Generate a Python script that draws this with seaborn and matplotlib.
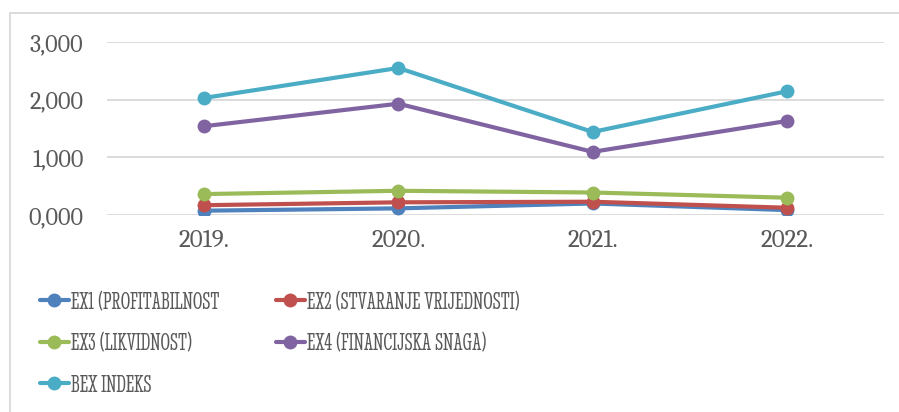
import matplotlib
matplotlib.use("Agg")
import matplotlib.pyplot as plt
import seaborn as sns
import pandas as pd
from matplotlib.lines import Line2D
from matplotlib.patches import Rectangle
from matplotlib.ticker import FuncFormatter

years = ["2019.", "2020.", "2021.", "2022."]
series_names = ["EX1 (PROFITABILNOST", "EX2 (STVARANJE VRIJEDNOSTI)",
                "EX3 (LIKVIDNOST)", "EX4 (FINANCIJSKA SNAGA)", "BEX INDEKS"]
ex1 = [0.075, 0.115, 0.200, 0.085]
ex2 = [0.170, 0.220, 0.230, 0.126]
ex3 = [0.363, 0.420, 0.390, 0.300]
ex4 = [1.540, 1.930, 1.095, 1.630]
bex = [2.030, 2.550, 1.440, 2.145]
colors = ["#4F81BD", "#C0504D", "#9BBB59", "#8064A2", "#4BACC6"]

rows = []
for name, vals in zip(series_names, [ex1, ex2, ex3, ex4, bex]):
    for i, (y, v) in enumerate(zip(years, vals)):
        rows.append({"x": i, "year": y, "series": name, "value": v})
df = pd.DataFrame(rows)

sns.set_theme(style="white")
plt.rcParams["font.family"] = ["Caladea", "PT Serif", "DejaVu Serif"]

fig = plt.figure(figsize=(8.99, 4.12), dpi=100)
ax = fig.add_axes([107/899, 1-215/412, (884-107)/899, (215-42)/412])

sns.lineplot(data=df, x="x", y="value", hue="series", hue_order=series_names,
             palette=colors, marker="o", markersize=10, markeredgewidth=0,
             linewidth=3, ax=ax, legend=False)

ax.set_xlim(-0.5, 3.5)
ax.set_ylim(0, 3)
ax.set_xticks(range(4))
ax.set_xticklabels(years)
ax.set_yticks([0, 1, 2, 3])
ax.yaxis.set_major_formatter(FuncFormatter(lambda v, p: f"{v:.3f}".replace(".", ",")))
ax.set_xlabel("")
ax.set_ylabel("")
ax.grid(axis="y", color="#D9D9D9", linewidth=1.3)
ax.set_axisbelow(True)
for s in ax.spines.values():
    s.set_visible(False)
ax.tick_params(axis="both", length=0, labelsize=17.5, colors="#595959")
ax.tick_params(axis="x", labelsize=18)
ax.tick_params(axis="y", pad=17)
ax.tick_params(axis="x", pad=10)

# row-major legend order for 2 columns
order = [0, 2, 4, 1, 3]
handles = [Line2D([0], [0], color=colors[i], lw=3, marker="o", markersize=10,
                  markeredgewidth=0) for i in order]
labels = [series_names[i] for i in order]
fig.legend(handles, labels, ncol=2, loc="upper left",
           bbox_to_anchor=(18/899, 1-270/412), frameon=False,
           prop={"size": 17.5, "family": ["Stint Ultra Condensed", "PT Serif"]},
           labelcolor="#595959", handlelength=1.2, handletextpad=0.1,
           columnspacing=2.3, labelspacing=0.8)

fig.patches.append(Rectangle((10/899, -0.1), 1.2, 1-12.5/412+0.1,
                             transform=fig.transFigure, fill=False,
                             edgecolor="#D9D9D9", linewidth=1.3))

fig.savefig("out.png", dpi=100)
